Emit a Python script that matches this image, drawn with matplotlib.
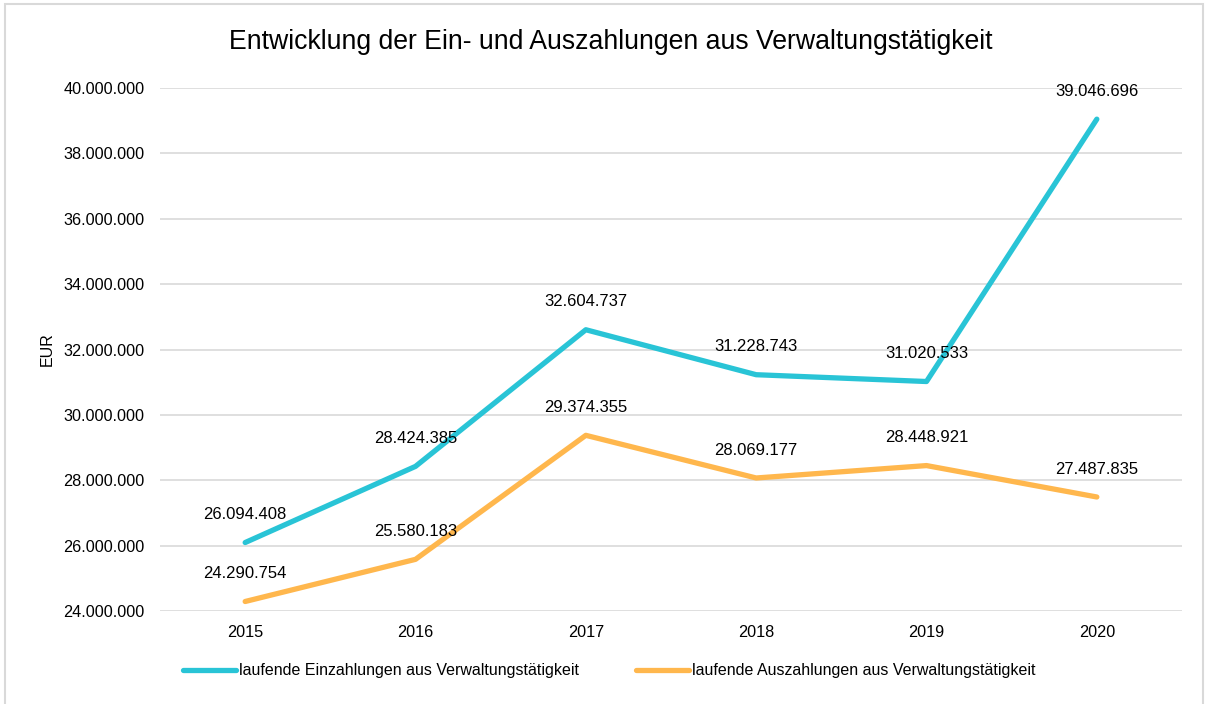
import matplotlib.pyplot as plt
from matplotlib.ticker import FuncFormatter

plt.rcParams['font.family'] = ['Liberation Sans', 'DejaVu Sans']

# Data
years = ["2015", "2016", "2017", "2018", "2019", "2020"]
einzahlungen = [26094408, 28424385, 32604737, 31228743, 31020533, 39046696]
auszahlungen = [24290754, 25580183, 29374355, 28069177, 28448921, 27487835]
series_names = ["laufende Einzahlungen aus Verwaltungstätigkeit",
                "laufende Auszahlungen aus Verwaltungstätigkeit"]
colors = ["#29C4D6", "#FFB74D"]

def fmt(v):
    return f"{v:,.0f}".replace(",", ".")

fig = plt.figure(figsize=(12.09, 7.04), dpi=100)
ax = fig.add_axes([160 / 1209, 1 - 611 / 704, 1022 / 1209, 523 / 704])

x = list(range(len(years)))
for vals, name, c in zip([einzahlungen, auszahlungen], series_names, colors):
    ax.plot(x, vals, color=c, lw=3.8, label=name, solid_capstyle='round', zorder=3)
    for xi, v in zip(x, vals):
        ax.annotate(fmt(v), (xi, v), xytext=(0, 20), textcoords='offset points',
                    ha='center', va='center', fontsize=12, color='#000000', zorder=4)

ax.set_xlim(-0.5, 5.5)
ax.set_ylim(24000000, 40000000)
ax.set_yticks(range(24000000, 40000001, 2000000))
ax.yaxis.set_major_formatter(FuncFormatter(lambda v, p: fmt(v)))
ax.set_xticks(x)
ax.set_xticklabels(years)
ax.tick_params(length=0, labelsize=11.7, pad=10)
ax.tick_params(axis='y', pad=11)
ax.grid(axis='y', color='#D9D9D9', lw=1.2)
ax.set_axisbelow(True)
for s in ax.spines.values():
    s.set_visible(False)
ax.set_ylabel("EUR", fontsize=11.5, labelpad=6)

fig.text(0.505, 1 - 42 / 704, "Entwicklung der Ein- und Auszahlungen aus Verwaltungstätigkeit",
         ha='center', va='center', fontsize=19.2)

leg = fig.legend(loc='center', bbox_to_anchor=(0.504, 1 - 671 / 704), ncol=2, frameon=False,
                 fontsize=11.5, handlelength=3.3, columnspacing=3.6, handletextpad=0.2)

# chart border
fig.patches.append(plt.Rectangle((5 / 1209, -0.01), 1198 / 1209, 1 - 4 / 704 + 0.01,
                                 transform=fig.transFigure, fill=False,
                                 edgecolor='#D9D9D9', lw=1.5))

fig.savefig("out.png", dpi=100)
